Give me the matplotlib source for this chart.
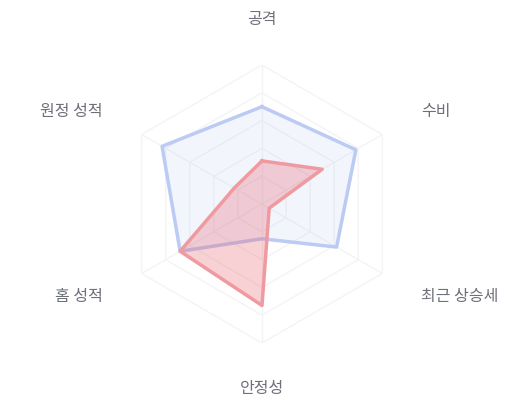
import matplotlib
matplotlib.use("Agg")
import matplotlib.pyplot as plt
import numpy as np

plt.rcParams['font.family'] = ['Noto Sans CJK KR', 'DejaVu Sans']

# axes, clockwise from the top
labels = ['공격', '수비', '최근 상승세', '안정성', '홈 성적', '원정 성적']
blue_vals = [70, 78, 62, 25, 68, 83]
red_vals = [31, 50, 6, 73, 68, 23]
levels = [20, 40, 60, 80, 100]

n = len(labels)
angles = np.linspace(0, 2 * np.pi, n, endpoint=False)
closed = np.append(angles, angles[0])

fig = plt.figure(figsize=(5.2, 4.0), dpi=100)
ax = fig.add_axes([0.2365, 0.1425, 0.5346, 0.695], projection='polar')
ax.set_theta_offset(np.pi / 2)
ax.set_theta_direction(-1)
ax.set_ylim(0, 100)
ax.grid(False)
ax.set_xticks([])
ax.set_yticks([])
ax.spines['polar'].set_visible(False)
ax.patch.set_visible(False)

# hexagon split lines + axis lines (very faint)
for lv in levels:
    ax.plot(closed, [lv] * (n + 1), color='#f4f4f6', lw=1, zorder=1)
for a in angles:
    ax.plot([a, a], [0, 100], color='#f4f4f6', lw=1, zorder=1)

def draw(vals, line_c, fill_c, fill_a, z):
    v = np.append(vals, vals[0])
    ax.fill(closed, v, color=fill_c, alpha=fill_a, lw=0, zorder=z)
    ax.plot(closed, v, color=line_c, lw=2.5, zorder=z + 1,
            solid_joinstyle='round')

draw(blue_vals, '#bccbf3', '#6b8ce8', 0.08, 2)
draw(red_vals, '#ef9aa0', '#e85a66', 0.28, 4)

for a, lab in zip(angles, labels):
    s = np.sin(a)
    if abs(s) < 1e-6:
        ha = 'center'
    elif s > 0:
        ha = 'left'
    else:
        ha = 'right'
    ax.text(a, 132.4, lab, ha=ha, va='center', fontsize=11.5,
            color='#6e7079', clip_on=False)

fig.savefig('out.png', dpi=100, facecolor='white')
